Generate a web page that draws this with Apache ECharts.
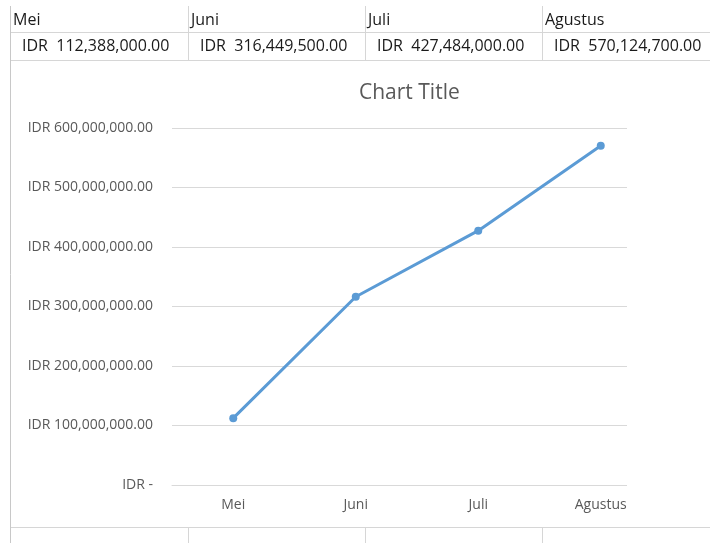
<!DOCTYPE html>
<html>
<head>
<meta charset="utf-8">
<script src="https://cdn.jsdelivr.net/npm/echarts@6/dist/echarts.min.js"></script>
<style>html,body{margin:0;padding:0;background:#fff;}#c{width:710px;height:543px;}</style>
</head>
<body>
<div id="c"></div>
<script>
var categories = ['Mei', 'Juni', 'Juli', 'Agustus'];
var values = [112388000, 316449500, 427484000, 570124700];
var yTicks = [0, 100000000, 200000000, 300000000, 400000000, 500000000, 600000000];

function fmt(v) {
  var s = v.toFixed(2).split('.');
  s[0] = s[0].replace(/\B(?=(\d{3})+(?!\d))/g, ',');
  return s.join('.');
}

var chart = echarts.init(document.getElementById('c'), null, {renderer: 'canvas'});
var cellLine = '#d6d6d6';
var colX = [10, 188, 365, 542];
var g = [];
// plot area edge in the reference ends at x=626; hide the rest of the grid lines
g.push({type: 'rect', z: 1, shape: {x: 627, y: 110, width: 83, height: 390}, style: {fill: '#ffffff'}});
// spreadsheet grid lines
[32.5, 60.5, 527.5].forEach(function (y) {
  g.push({type: 'line', z: 3, shape: {x1: 10, y1: y, x2: 710, y2: y}, style: {stroke: cellLine, lineWidth: 1}});
});
colX.slice(1).forEach(function (x) {
  g.push({type: 'line', z: 3, shape: {x1: x + 0.5, y1: 6, x2: x + 0.5, y2: 60}, style: {stroke: cellLine, lineWidth: 1}});
  g.push({type: 'line', z: 3, shape: {x1: x + 0.5, y1: 527, x2: x + 0.5, y2: 543}, style: {stroke: cellLine, lineWidth: 1}});
});
g.push({type: 'line', z: 3, shape: {x1: 10.5, y1: 6, x2: 10.5, y2: 543}, style: {stroke: '#c8c8c8', lineWidth: 1}});
categories.forEach(function (c, i) {
  g.push({type: 'text', z: 3, x: colX[i] + 3, y: 20, style: {text: c, font: '16px "Open Sans"', fill: '#1a1a1a', textVerticalAlign: 'middle'}});
  g.push({type: 'text', z: 3, x: colX[i] + 12, y: 46, style: {text: 'IDR  ' + fmt(values[i]), font: '16px "Open Sans"', fill: '#1a1a1a', textVerticalAlign: 'middle'}});
});

chart.setOption({
  animation: false,
  title: {
    text: 'Chart Title',
    left: 354,
    top: 78,
    textStyle: {fontFamily: 'Open Sans', fontSize: 21, fontWeight: 'normal', color: '#595959'}
  },
  grid: {left: 172, right: 48, top: 128, bottom: 58, containLabel: false},
  xAxis: {
    type: 'category',
    data: categories,
    boundaryGap: true,
    z: 0,
    axisLine: {lineStyle: {color: '#d9d9d9', width: 1}},
    axisTick: {show: false},
    axisLabel: {fontFamily: 'Open Sans', fontSize: 14, color: '#595959', margin: 13}
  },
  yAxis: {
    type: 'value',
    min: 0,
    max: 600000000,
    interval: 100000000,
    z: 0,
    axisLine: {show: false},
    axisTick: {show: false},
    splitLine: {lineStyle: {color: '#d9d9d9', width: 1}},
    axisLabel: {
      fontFamily: 'Open Sans', fontSize: 14, color: '#595959', margin: 19,
      formatter: function (v) { return v === 0 ? 'IDR -' : 'IDR ' + fmt(v); }
    }
  },
  series: [{
    type: 'line',
    z: 2,
    data: values,
    symbol: 'circle',
    symbolSize: 8,
    lineStyle: {color: '#5B9BD5', width: 3},
    itemStyle: {color: '#5B9BD5'}
  }],
  graphic: g
});
</script>
</body>
</html>
